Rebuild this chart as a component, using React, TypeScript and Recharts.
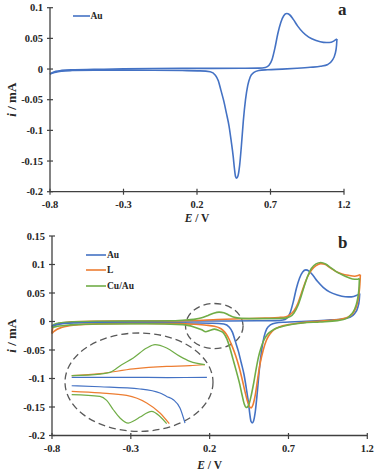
import { LineChart, Line, XAxis, YAxis, Legend, ReferenceArea } from 'recharts';

const SERIF = '"Liberation Serif", "Times New Roman", serif';
const INK = '#262626';
const AXIS = '#404040';
const BLUE = '#4472C4';
const ORANGE = '#ED7D31';
const GREEN = '#70AD47';

const SERIES = ['Au', 'L', 'Cu/Au'];
const E_TICKS = [-0.8, -0.3, 0.2, 0.7, 1.2];
const I_TICKS_A = [-0.2, -0.15, -0.1, -0.05, 0, 0.05, 0.1];
const I_TICKS_B = [-0.2, -0.15, -0.1, -0.05, 0, 0.05, 0.1, 0.15];

type P = [number, number]; // [E / V, i / mA]

// Au: anodic sweep -0.8 -> 1.15 V, then cathodic back
const auAnodic: P[] = [
  [-0.8, -0.008], [-0.785, -0.006], [-0.76, -0.0038], [-0.72, -0.0022], [-0.65, -0.0012],
  [-0.5, -0.0006], [-0.3, 0.0002], [-0.1, 0.0008], [0.1, 0.001], [0.3, 0.001], [0.5, 0.0012],
  [0.62, 0.0015], [0.665, 0.0025], [0.69, 0.006], [0.71, 0.015], [0.73, 0.034], [0.75, 0.058],
  [0.77, 0.076], [0.79, 0.087], [0.81, 0.0905], [0.83, 0.0885], [0.855, 0.081], [0.885, 0.07],
  [0.92, 0.06], [0.96, 0.052], [1.01, 0.0465], [1.06, 0.0435], [1.1, 0.0432], [1.13, 0.0455],
  [1.152, 0.049],
];
const auCathodic: P[] = [
  [1.152, 0.049], [1.149, 0.038], [1.14, 0.025], [1.12, 0.014], [1.09, 0.0075], [1.04, 0.0045],
  [0.97, 0.0028], [0.88, 0.0012], [0.78, -0.0002], [0.68, -0.0012], [0.62, -0.0025],
  [0.585, -0.006], [0.562, -0.013], [0.545, -0.027], [0.53, -0.05], [0.515, -0.085],
  [0.502, -0.125], [0.49, -0.157], [0.479, -0.174], [0.47, -0.1778], [0.462, -0.175],
  [0.455, -0.163], [0.446, -0.142], [0.433, -0.118], [0.418, -0.093], [0.4, -0.072],
  [0.382, -0.052], [0.362, -0.034], [0.345, -0.019], [0.325, -0.01], [0.29, -0.0045],
  [0.22, -0.003], [0.1, -0.0025], [-0.1, -0.002], [-0.3, -0.0018], [-0.5, -0.0018],
  [-0.65, -0.0025], [-0.72, -0.0035], [-0.76, -0.005], [-0.785, -0.0068], [-0.8, -0.008],
];

// L
const lAnodic: P[] = [
  [-0.8, -0.021], [-0.797, -0.014], [-0.79, -0.009], [-0.775, -0.0055], [-0.75, -0.003],
  [-0.7, -0.0012], [-0.55, 0.0002], [-0.3, 0.0008], [-0.05, 0.001], [0.1, 0.0018],
  [0.25, 0.0035], [0.4, 0.0048], [0.55, 0.006], [0.64, 0.007], [0.685, 0.0085], [0.71, 0.012],
  [0.735, 0.019], [0.76, 0.032], [0.78, 0.048], [0.8, 0.064], [0.82, 0.078], [0.845, 0.09],
  [0.875, 0.098], [0.905, 0.1015], [0.935, 0.1], [0.965, 0.094], [1.0, 0.088], [1.04, 0.0835],
  [1.08, 0.081], [1.12, 0.0795], [1.145, 0.081], [1.156, 0.082],
];
const lCathodic: P[] = [
  [1.156, 0.082], [1.153, 0.066], [1.147, 0.048], [1.135, 0.03], [1.115, 0.017], [1.08, 0.008],
  [1.03, 0.004], [0.95, 0.0015], [0.84, -0.0007], [0.76, -0.003], [0.7, -0.0055],
  [0.645, -0.009], [0.61, -0.014], [0.585, -0.021], [0.56, -0.033], [0.54, -0.05],
  [0.52, -0.074], [0.505, -0.1], [0.49, -0.128], [0.475, -0.146], [0.462, -0.1515],
  [0.452, -0.149], [0.44, -0.14], [0.425, -0.124], [0.405, -0.1], [0.385, -0.078],
  [0.365, -0.06], [0.345, -0.045], [0.325, -0.032], [0.305, -0.022], [0.285, -0.0155],
  [0.26, -0.011], [0.23, -0.0085], [0.18, -0.0065], [0.1, -0.0048], [0.0, -0.0038],
  [-0.3, -0.0036], [-0.5, -0.0042], [-0.62, -0.0055], [-0.69, -0.0075], [-0.74, -0.0105],
  [-0.77, -0.014], [-0.79, -0.018], [-0.8, -0.021],
];

// Cu/Au
const cuAnodic: P[] = [
  [-0.8, -0.0105], [-0.795, -0.007], [-0.78, -0.0045], [-0.75, -0.0025], [-0.7, -0.0012],
  [-0.5, 0.0002], [-0.2, 0.0008], [-0.05, 0.0012], [0.03, 0.0023], [0.1, 0.0038],
  [0.15, 0.0065], [0.19, 0.0105], [0.225, 0.0145], [0.26, 0.0165], [0.29, 0.0155],
  [0.32, 0.0115], [0.35, 0.0078], [0.4, 0.0055], [0.5, 0.005], [0.62, 0.0052], [0.68, 0.006],
  [0.71, 0.0085], [0.735, 0.015], [0.76, 0.028], [0.78, 0.044], [0.8, 0.062], [0.82, 0.078],
  [0.845, 0.093], [0.875, 0.101], [0.905, 0.1035], [0.935, 0.101], [0.965, 0.095],
  [1.0, 0.088], [1.04, 0.082], [1.08, 0.077], [1.12, 0.074], [1.14, 0.074], [1.15, 0.0755],
];
const cuCathodic: P[] = [
  [1.15, 0.0755], [1.148, 0.062], [1.143, 0.047], [1.135, 0.035], [1.12, 0.022], [1.1, 0.013],
  [1.07, 0.0055], [1.01, 0.0015], [0.9, -0.0008], [0.79, -0.0025], [0.7, -0.006],
  [0.65, -0.0095], [0.61, -0.0135], [0.58, -0.019], [0.56, -0.025], [0.54, -0.035],
  [0.525, -0.047], [0.51, -0.062], [0.495, -0.083], [0.48, -0.107], [0.465, -0.128],
  [0.452, -0.143], [0.44, -0.15], [0.43, -0.151], [0.42, -0.145], [0.405, -0.128],
  [0.39, -0.109], [0.37, -0.088], [0.348, -0.066], [0.328, -0.046], [0.31, -0.031],
  [0.29, -0.021], [0.265, -0.0165], [0.23, -0.0133], [0.2, -0.0158], [0.175, -0.018],
  [0.15, -0.0145], [0.1, -0.0095], [0.03, -0.0055], [-0.2, -0.004], [-0.5, -0.0045],
  [-0.65, -0.0055], [-0.72, -0.007], [-0.77, -0.0085], [-0.8, -0.0105],
];

// region circled in panel b and magnified in the inset
const ZOOM_E: [number, number] = [0.047, 0.412];
const ZOOM_I: [number, number] = [-0.0475, 0.0316];

// inset (magnified) branches
const auUp: P[] = [[0.0635, -0.0041], [0.2, -0.0041], [0.3, -0.0042], [0.397, -0.0041]];
const auDown: P[] = [
  [0.0635, -0.0108], [0.1333, -0.0116], [0.232, -0.0134], [0.2813, -0.0166], [0.2978, -0.0194],
  [0.3141, -0.022], [0.3306, -0.0287], [0.343, -0.0408],
];
const lUp: P[] = [[0.0635, -0.0027], [0.1333, -0.0011], [0.2154, 0.0027], [0.2978, 0.0047], [0.3553, 0.0053], [0.392, 0.0061]];
const lDown: P[] = [
  [0.0635, -0.0154], [0.1333, -0.0166], [0.1991, -0.0186], [0.2485, -0.0247], [0.2813, -0.0327],
  [0.3042, -0.0413],
];
const cuUp: P[] = [
  [0.0635, -0.0027], [0.1333, -0.0014], [0.158, -0.0001], [0.1868, 0.0061], [0.2154, 0.0115],
  [0.2485, 0.0195], [0.269, 0.0222], [0.2978, 0.0195], [0.3306, 0.0128], [0.3553, 0.0088],
  [0.392, 0.0061],
];
const cuDown: P[] = [
  [0.0635, -0.018], [0.1333, -0.0194], [0.1498, -0.0226], [0.1661, -0.0301], [0.1826, -0.0367],
  [0.2031, -0.0408], [0.2196, -0.0385], [0.232, -0.036], [0.2608, -0.0314], [0.2813, -0.0355],
  [0.2978, -0.0413],
];

const pts = (a: P[]) => a.map(([E, i]) => ({ E, i }));
const fmt = (v: number) => String(parseFloat(v.toFixed(2)));

function XTick({ x, y, payload }: any) {
  return (
    <g>
      <line x1={x} x2={x} y1={y - 12} y2={y - 6} stroke={AXIS} strokeWidth={1.2} />
      <text x={x} y={y} dy="0.71em" textAnchor="middle" fontFamily={SERIF} fontWeight={700} fontSize={10.5} fill={INK}>
        {fmt(payload.value)}
      </text>
    </g>
  );
}

function YTick({ x, y, payload }: any) {
  return (
    <g>
      <line x1={x + 4} x2={x + 10} y1={y} y2={y} stroke={AXIS} strokeWidth={1.2} />
      <text x={x} y={y} dy="0.35em" textAnchor="end" fontFamily={SERIF} fontWeight={700} fontSize={10.5} fill={INK}>
        {fmt(payload.value)}
      </text>
    </g>
  );
}

const xTitle = (dy: number) => ({ viewBox }: any) => (
  <text x={viewBox.x + viewBox.width / 2} y={viewBox.y + dy} textAnchor="middle" fontFamily={SERIF} fontWeight={700} fontSize={11.5} fill={INK}>
    <tspan fontStyle="italic">E</tspan> / V
  </text>
);

const yTitle = ({ viewBox }: any) => {
  const cx = 11;
  const cy = viewBox.y + viewBox.height / 2;
  return (
    <text x={cx} y={cy} dy="0.35em" transform={`rotate(-90, ${cx}, ${cy})`} textAnchor="middle" fontFamily={SERIF} fontWeight={700} fontSize={13} fill={INK}>
      <tspan fontStyle="italic">i</tspan> / mA
    </text>
  );
};

// only the anodic branch of each series gets a legend row, in the figure's order
const legendBox = (lineW: number) => ({ payload }: any) => {
  const rows = (payload || [])
    .filter((e: any) => e.type !== 'none' && SERIES.includes(e.value))
    .sort((a: any, b: any) => SERIES.indexOf(a.value) - SERIES.indexOf(b.value));
  return (
    <div style={{ fontFamily: SERIF, fontWeight: 700, fontSize: 9.5, color: INK }}>
      {rows.map((e: any) => (
        <div key={e.value} style={{ display: 'flex', alignItems: 'center', height: 15.5 }}>
          <svg width={lineW} height={4} style={{ display: 'block' }}>
            <line x1={0} x2={lineW} y1={2} y2={2} stroke={e.color} strokeWidth={1.6} />
          </svg>
          <span style={{ marginLeft: 1 }}>{e.value}</span>
        </div>
      ))}
    </div>
  );
};

const Ellipse = (p: any) => (
  <ellipse
    cx={p.x + p.width / 2}
    cy={p.y + p.height / 2}
    rx={Math.abs(p.width) / 2}
    ry={Math.abs(p.height) / 2}
    fill="none"
    stroke="#595959"
    strokeWidth={1.3}
    strokeDasharray="7 4"
  />
);

const lineProps = {
  dataKey: 'i',
  type: 'monotone' as const,
  dot: false,
  activeDot: false,
  strokeWidth: 1.6,
  isAnimationActive: false,
};

export default function App() {
  const axisCommon = {
    axisLine: { stroke: AXIS, strokeWidth: 1.3 },
    tickLine: false,
    tickSize: 0,
  };
  return (
    <div style={{ position: 'absolute', left: 0, top: 0, width: 378, height: 473, background: '#fff', fontFamily: SERIF }}>
      <div style={{ position: 'absolute', left: 0, top: 0 }}>
        <LineChart width={378} height={230} margin={{ top: 7.7, right: 34, bottom: 0, left: 0 }}>
          <XAxis
            dataKey="E"
            type="number"
            domain={[-0.8, 1.2]}
            ticks={E_TICKS}
            interval={0}
            height={38.3}
            tickMargin={9}
            tick={XTick}
            label={{ content: xTitle(30.5) }}
            {...axisCommon}
          />
          <YAxis
            type="number"
            domain={[-0.2, 0.1]}
            ticks={I_TICKS_A}
            interval={0}
            width={50}
            tickMargin={7}
            tick={YTick}
            label={{ content: yTitle }}
            {...axisCommon}
          />
          <Legend
            layout="vertical"
            align="center"
            verticalAlign="middle"
            content={legendBox(17)}
            wrapperStyle={{ left: 72.5, top: 8.2, width: 'auto', height: 'auto' }}
          />
          <Line {...lineProps} data={pts(auAnodic)} name="Au" stroke={BLUE} />
          <Line {...lineProps} data={pts(auCathodic)} name="Au (cathodic)" stroke={BLUE} legendType="none" />
        </LineChart>
      </div>

      <div style={{ position: 'absolute', left: 0, top: 230 }}>
        <LineChart width={378} height={243} margin={{ top: 6, right: 10.7, bottom: 0, left: 0 }}>
          <XAxis
            dataKey="E"
            type="number"
            domain={[-0.8, 1.2]}
            ticks={E_TICKS}
            interval={0}
            height={37.5}
            tickMargin={9.5}
            tick={XTick}
            label={{ content: xTitle(33.5) }}
            {...axisCommon}
          />
          <YAxis
            type="number"
            domain={[-0.2, 0.15]}
            ticks={I_TICKS_B}
            interval={0}
            width={52}
            tickMargin={7}
            tick={YTick}
            label={{ content: yTitle }}
            {...axisCommon}
          />
          <Legend
            layout="vertical"
            align="center"
            verticalAlign="middle"
            content={legendBox(20)}
            wrapperStyle={{ left: 86, top: 17.2, width: 'auto', height: 'auto' }}
          />
          <ReferenceArea x1={ZOOM_E[0]} x2={ZOOM_E[1]} y1={ZOOM_I[0]} y2={ZOOM_I[1]} shape={Ellipse} ifOverflow="visible" />
          <Line {...lineProps} data={pts(auAnodic)} name="Au" stroke={BLUE} />
          <Line {...lineProps} data={pts(lAnodic)} name="L" stroke={ORANGE} />
          <Line {...lineProps} data={pts(cuAnodic)} name="Cu/Au" stroke={GREEN} />
          <Line {...lineProps} data={pts(auCathodic)} name="Au (cathodic)" stroke={BLUE} legendType="none" />
          <Line {...lineProps} data={pts(lCathodic)} name="L (cathodic)" stroke={ORANGE} legendType="none" />
          <Line {...lineProps} data={pts(cuCathodic)} name="Cu/Au (cathodic)" stroke={GREEN} legendType="none" />
        </LineChart>
      </div>

      <div style={{ position: 'absolute', left: 63, top: 331.3 }}>
        <LineChart width={152} height={102.4} margin={{ top: 2, right: 2, bottom: 2, left: 2 }}>
          <XAxis dataKey="E" type="number" domain={ZOOM_E} hide />
          <YAxis type="number" domain={ZOOM_I} hide />
          <ReferenceArea x1={ZOOM_E[0]} x2={ZOOM_E[1]} y1={ZOOM_I[0]} y2={ZOOM_I[1]} shape={Ellipse} ifOverflow="visible" />
          <Line {...lineProps} strokeWidth={1.2} data={pts(auUp)} stroke={BLUE} />
          <Line {...lineProps} strokeWidth={1.2} data={pts(auDown)} stroke={BLUE} />
          <Line {...lineProps} strokeWidth={1.2} data={pts(lUp)} stroke={ORANGE} />
          <Line {...lineProps} strokeWidth={1.2} data={pts(lDown)} stroke={ORANGE} />
          <Line {...lineProps} strokeWidth={1.2} data={pts(cuUp)} stroke={GREEN} />
          <Line {...lineProps} strokeWidth={1.2} data={pts(cuDown)} stroke={GREEN} />
        </LineChart>
      </div>

      <div style={{ position: 'absolute', left: 338, top: 0.8, fontSize: 17, fontWeight: 700, lineHeight: '17px', color: INK }}>a</div>
      <div style={{ position: 'absolute', left: 338, top: 233.8, fontSize: 17, fontWeight: 700, lineHeight: '17px', color: INK }}>b</div>
    </div>
  );
}
